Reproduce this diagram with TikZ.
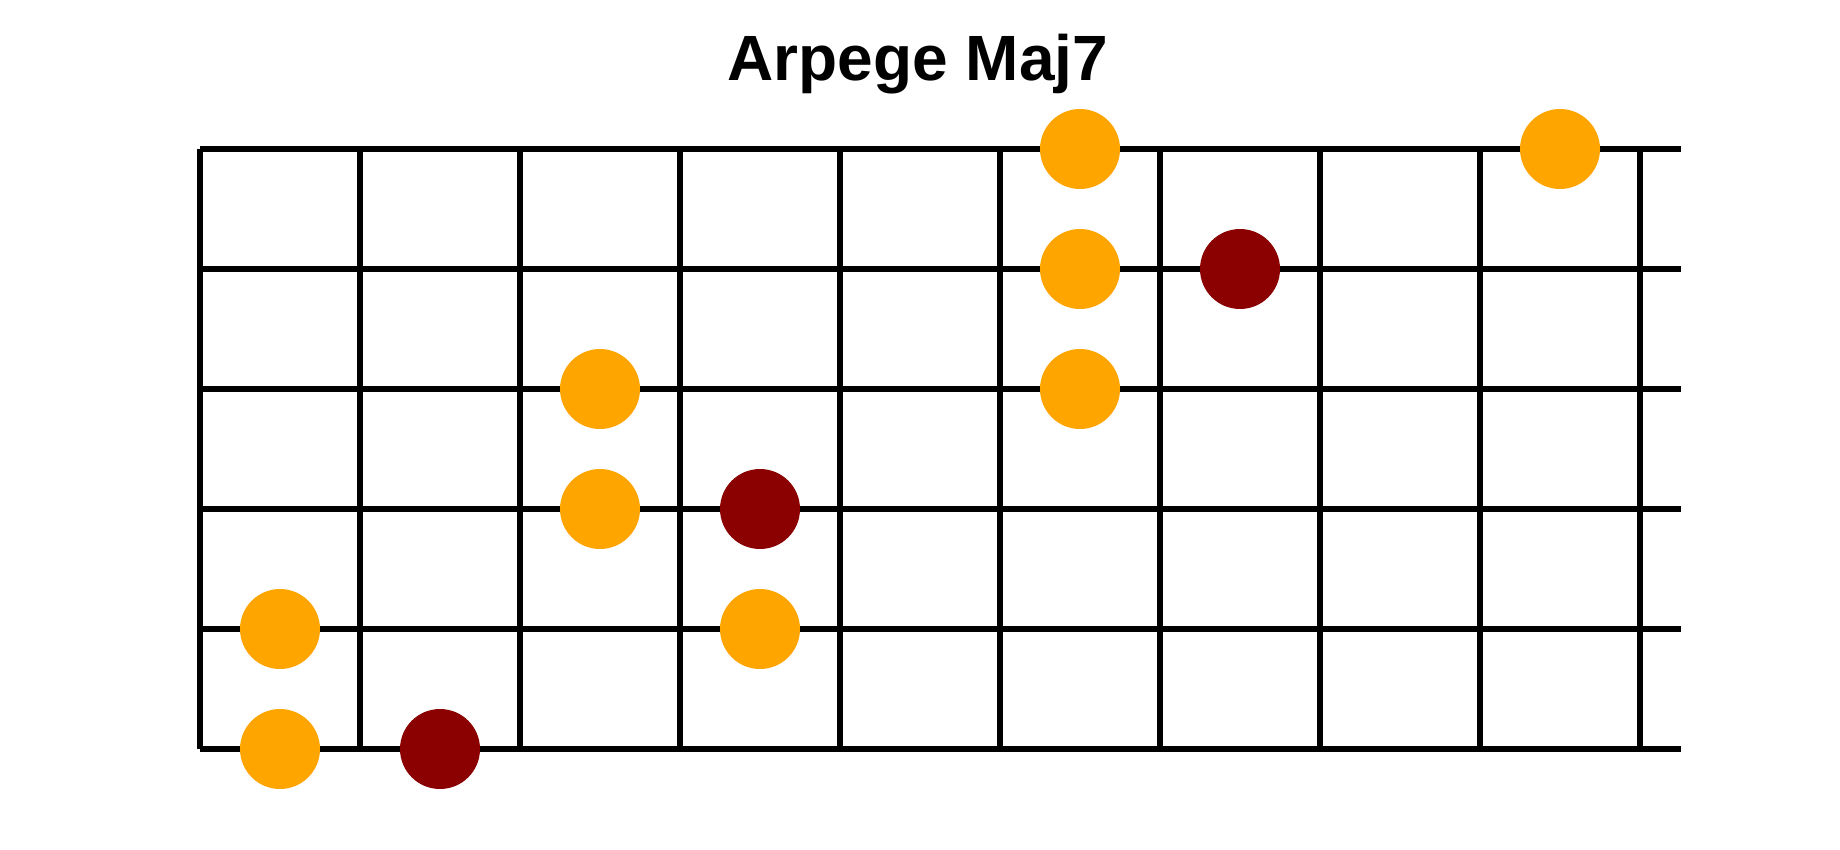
\documentclass[tikz,border=0pt]{standalone}
\usepackage{fontspec}
\setmainfont{Liberation Sans}
\usetikzlibrary{positioning}
\definecolor{noteorange}{HTML}{FFA500}
\definecolor{rootred}{HTML}{8B0000}
\begin{document}
\begin{tikzpicture}[x=0.5pt, y=-0.5pt, line width=2.75pt,
		note/.style = {circle, fill=noteorange, minimum size=40pt, inner sep=0pt},
		root/.style = {note, fill=rootred}]
		\useasboundingbox (0,0) rectangle (1840,850);
		\node[font=\bfseries\fontsize{32}{38}\selectfont, anchor=base] (title) at (918,81) {Arpege Maj7};
		% strings and frets
		\foreach \s in {1,...,6}
			\draw (200,{29+120*\s}) coordinate (s\s a) -- (1681,{29+120*\s}) coordinate (s\s b);
		\foreach \f in {0,...,9}
			\draw ({200+160*\f},149) coordinate (f\f a) -- ({200+160*\f},749) coordinate (f\f b);
		% notes
		\foreach \s/\f in {1/5,1/8,2/5,3/2,3/5,4/2,5/0,5/3,6/0}
			\node[note] (n\s\f) at ({280+160*\f},{29+120*\s}) {};
		\foreach \s/\f in {2/6,4/3,6/1}
			\node[root] (r\s\f) at ({280+160*\f},{29+120*\s}) {};
	\end{tikzpicture}
\end{document}
